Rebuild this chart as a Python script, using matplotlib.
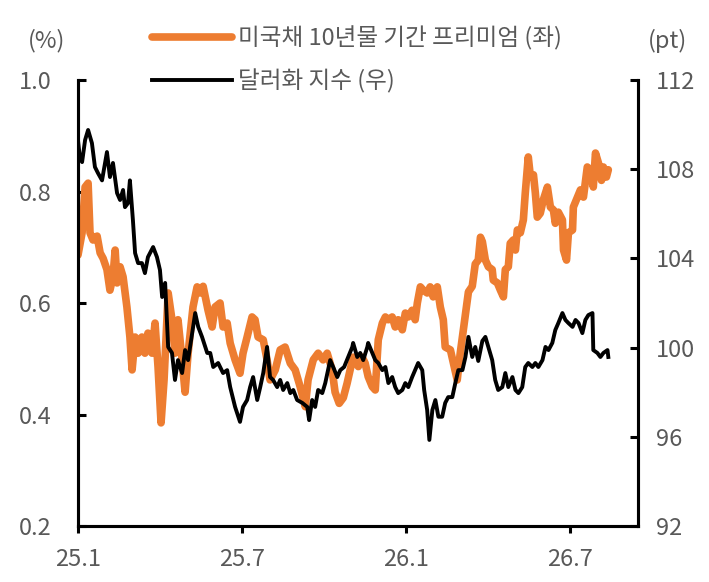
import matplotlib
matplotlib.use("Agg")
import matplotlib.pyplot as plt

plt.rcParams['font.family'] = ['Noto Sans CJK KR', 'DejaVu Sans']
plt.rcParams['font.weight'] = 300

# months since 2025-01
prem_t = [0.00, 0.15, 0.26, 0.37, 0.44, 0.55, 0.70, 0.81, 0.92, 1.06, 1.17, 1.28, 1.36, 1.43,
          1.54, 1.65, 1.79, 1.90, 1.98, 2.09, 2.20, 2.34, 2.45, 2.56, 2.71, 2.82, 2.93, 3.04,
          3.15, 3.30, 3.44, 3.55, 3.66, 3.81, 3.92, 4.03, 4.21, 4.36, 4.47, 4.58, 4.76, 4.91,
          5.02, 5.20, 5.31, 5.46, 5.57, 5.75, 5.93, 6.04, 6.19, 6.37, 6.48, 6.59, 6.78, 6.92,
          7.03, 7.22, 7.40, 7.58, 7.77, 7.95, 8.13, 8.32, 8.42, 8.61, 8.79, 8.97, 9.12, 9.30,
          9.41, 9.56, 9.71, 9.85, 9.96, 10.07, 10.26, 10.40, 10.51, 10.62, 10.77, 10.88, 10.99,
          11.14, 11.25, 11.36, 11.50, 11.61, 11.72, 11.87, 11.98, 12.09, 12.23, 12.34, 12.42,
          12.53, 12.64, 12.78, 12.89, 13.00, 13.15, 13.26, 13.37, 13.44, 13.63, 13.74, 13.88,
          13.99, 14.10, 14.21, 14.29, 14.43, 14.54, 14.65, 14.73, 14.80, 14.91, 15.02, 15.16,
          15.20, 15.35, 15.46, 15.57, 15.64, 15.75, 15.82, 15.93, 16.01, 16.08, 16.19, 16.30,
          16.37, 16.48, 16.56, 16.67, 16.74, 16.81, 16.92, 17.03, 17.18, 17.29, 17.40, 17.47,
          17.58, 17.73, 17.77, 17.88, 17.95, 18.10, 18.13, 18.28, 18.39, 18.50, 18.64, 18.75,
          18.86, 18.94, 19.05, 19.16, 19.23, 19.34, 19.41]
prem = [0.686, 0.726, 0.808, 0.815, 0.726, 0.713, 0.720, 0.690, 0.680, 0.660, 0.623, 0.647, 0.695, 0.636,
        0.665, 0.647, 0.593, 0.539, 0.480, 0.539, 0.510, 0.539, 0.510, 0.546, 0.510, 0.564, 0.485, 0.385,
        0.462, 0.618, 0.570, 0.510, 0.570, 0.498, 0.440, 0.510, 0.593, 0.629, 0.618, 0.630, 0.587, 0.557,
        0.593, 0.600, 0.557, 0.564, 0.528, 0.498, 0.474, 0.510, 0.539, 0.575, 0.570, 0.539, 0.534, 0.498,
        0.462, 0.480, 0.516, 0.521, 0.492, 0.480, 0.450, 0.414, 0.462, 0.498, 0.510, 0.498, 0.510, 0.480,
        0.440, 0.420, 0.430, 0.456, 0.480, 0.503, 0.486, 0.503, 0.492, 0.468, 0.450, 0.444, 0.534,
        0.564, 0.575, 0.570, 0.575, 0.557, 0.570, 0.552, 0.582, 0.575, 0.587, 0.570, 0.600,
        0.629, 0.623, 0.618, 0.629, 0.611, 0.629, 0.593, 0.570, 0.521, 0.516, 0.492, 0.462,
        0.510, 0.550, 0.590, 0.620, 0.630, 0.670, 0.677, 0.718, 0.710, 0.677, 0.665, 0.660,
        0.641, 0.636, 0.623, 0.611, 0.660, 0.665, 0.707, 0.713, 0.695, 0.731, 0.726, 0.749,
        0.797, 0.862, 0.826, 0.830, 0.797, 0.754, 0.761, 0.785, 0.808, 0.772, 0.767, 0.743,
        0.763, 0.749, 0.695, 0.677, 0.726, 0.731, 0.772, 0.790, 0.803, 0.790, 0.844, 0.839,
        0.808, 0.869, 0.851, 0.820, 0.844, 0.826, 0.839]

dxy_t = [0.00, 0.07, 0.15, 0.26, 0.37, 0.51, 0.62, 0.73, 0.88, 0.99, 1.06, 1.17, 1.28, 1.43,
         1.54, 1.65, 1.72, 1.83, 1.90, 2.01, 2.09, 2.20, 2.34, 2.45, 2.56, 2.75, 2.89, 3.00,
         3.08, 3.19, 3.30, 3.44, 3.55, 3.66, 3.81, 3.92, 4.03, 4.18, 4.29, 4.40, 4.54, 4.73,
         4.84, 4.95, 5.13, 5.31, 5.46, 5.57, 5.75, 5.93, 6.04, 6.19, 6.30, 6.41, 6.56, 6.67,
         6.78, 6.92, 7.03, 7.14, 7.29, 7.40, 7.51, 7.66, 7.77, 7.88, 8.02, 8.21, 8.39, 8.46,
         8.57, 8.68, 8.79, 8.94, 9.05, 9.23, 9.34, 9.49, 9.60, 9.74, 9.89, 10.04, 10.07, 10.22,
         10.33, 10.44, 10.59, 10.62, 10.77, 10.88, 10.99, 11.14, 11.25, 11.36, 11.50, 11.61,
         11.72, 11.87, 11.98, 12.09, 12.23, 12.34, 12.45, 12.60, 12.67, 12.78, 12.86, 12.97,
         13.08, 13.19, 13.33, 13.44, 13.55, 13.70, 13.81, 13.92, 14.07, 14.18, 14.29, 14.43,
         14.54, 14.65, 14.80, 14.91, 15.02, 15.16, 15.27, 15.38, 15.53, 15.64, 15.75, 15.90,
         16.01, 16.12, 16.26, 16.37, 16.48, 16.63, 16.74, 16.85, 17.00, 17.11, 17.22, 17.36,
         17.47, 17.58, 17.73, 17.84, 17.95, 18.10, 18.21, 18.32, 18.46, 18.57, 18.68, 18.83,
         18.86, 19.01, 19.12, 19.23, 19.38, 19.41]
dxy = [109.30, 108.50, 108.32, 109.31, 109.76, 109.17, 108.10, 107.83, 107.50, 108.28, 108.77, 107.65, 108.28, 106.93,
       106.62, 107.07, 106.30, 106.48, 107.50, 105.72, 104.24, 103.79, 103.79, 103.34, 104.06, 104.51, 104.06, 103.48,
       102.27, 102.90, 100.03, 99.76, 98.55, 99.44, 98.86, 99.89, 99.44, 100.65, 101.55, 100.93, 100.48, 99.76,
       99.76, 99.13, 99.31, 98.86, 98.99, 98.23, 97.34, 96.67, 97.34, 97.65, 98.23, 98.68, 97.65, 98.23,
       98.86, 100.03, 98.68, 98.55, 98.23, 98.55, 98.10, 98.41, 97.96, 98.10, 97.65, 97.52, 97.34, 96.75,
       97.65, 97.34, 98.10, 97.96, 98.41, 99.44, 99.13, 98.68, 98.99, 99.13, 99.58, 100.03, 100.21, 99.58,
       99.76, 99.44, 100.03, 100.21, 99.76, 99.44, 99.31, 98.99, 99.13, 98.41, 98.68, 98.23,
       97.96, 98.10, 98.41, 98.23, 98.68, 98.99, 99.31, 98.99, 98.10, 97.20, 95.86, 97.20,
       97.65, 96.90, 96.90, 97.52, 97.78, 97.78, 98.41, 98.99, 98.99, 99.58, 100.48, 99.58,
       100.03, 99.40, 100.30, 100.48, 100.03, 99.44, 98.55, 98.10, 98.23, 98.86, 98.23, 98.68,
       98.10, 97.96, 98.23, 99.13, 99.31, 99.13, 99.31, 99.13, 99.44, 100.03, 99.89, 100.21,
       100.79, 101.10, 101.55, 101.24, 101.10, 100.93, 101.24, 101.10, 100.65, 101.24, 101.46, 101.55,
       99.89, 99.76, 99.58, 99.76, 99.89, 99.58]

xtick_pos = [0, 6, 12, 18]
xtick_labels = ['25.1', '25.7', '26.1', '26.7']
left_ticks = [0.2, 0.4, 0.6, 0.8, 1.0]
right_ticks = [92, 96, 100, 104, 108, 112]

orange = '#ED7D31'
txt = '#595959'
fs = 17

fig = plt.figure(figsize=(7.09, 5.82), dpi=100)
ax = fig.add_axes([0.110, 0.0962, 0.790, 0.7663])
ax2 = ax.twinx()

l1, = ax.plot(prem_t, prem, color=orange, lw=5.5, solid_capstyle='round',
              label='미국채 10년물 기간 프리미엄 (좌)')
l2, = ax2.plot(dxy_t, dxy, color='black', lw=2.8, label='달러화 지수 (우)')

ax.set_xlim(0, 20.5)
ax.set_ylim(0.2, 1.0)
ax2.set_ylim(92, 112)
ax.set_xticks(xtick_pos)
ax.set_xticklabels(xtick_labels)
ax.set_yticks(left_ticks)
ax.set_yticklabels([f'{v:.1f}' for v in left_ticks])
ax2.set_yticks(right_ticks)

for a in (ax, ax2):
    a.spines['top'].set_visible(False)
    for s in ('left', 'right', 'bottom'):
        a.spines[s].set_linewidth(2.2)
    a.tick_params(direction='in', length=6, width=2.2, labelsize=fs, labelcolor=txt)
ax.tick_params(axis='y', pad=19)
ax2.tick_params(axis='y', pad=13)
ax.tick_params(axis='x', direction='out', length=5, pad=11)

fig.text(0.066, 0.93, '(%)', fontsize=fs, color=txt, ha='center', va='center')
fig.text(0.941, 0.93, '(pt)', fontsize=fs, color=txt, ha='center', va='center')

leg = fig.legend(handles=[l1, l2], loc='upper left', bbox_to_anchor=(0.214, 0.955),
                 frameon=False, fontsize=fs, handlelength=3.4, handletextpad=0.25,
                 labelspacing=0.77, borderpad=0, borderaxespad=0)
for t in leg.get_texts():
    t.set_color(txt)

fig.savefig('out.png', dpi=100)
